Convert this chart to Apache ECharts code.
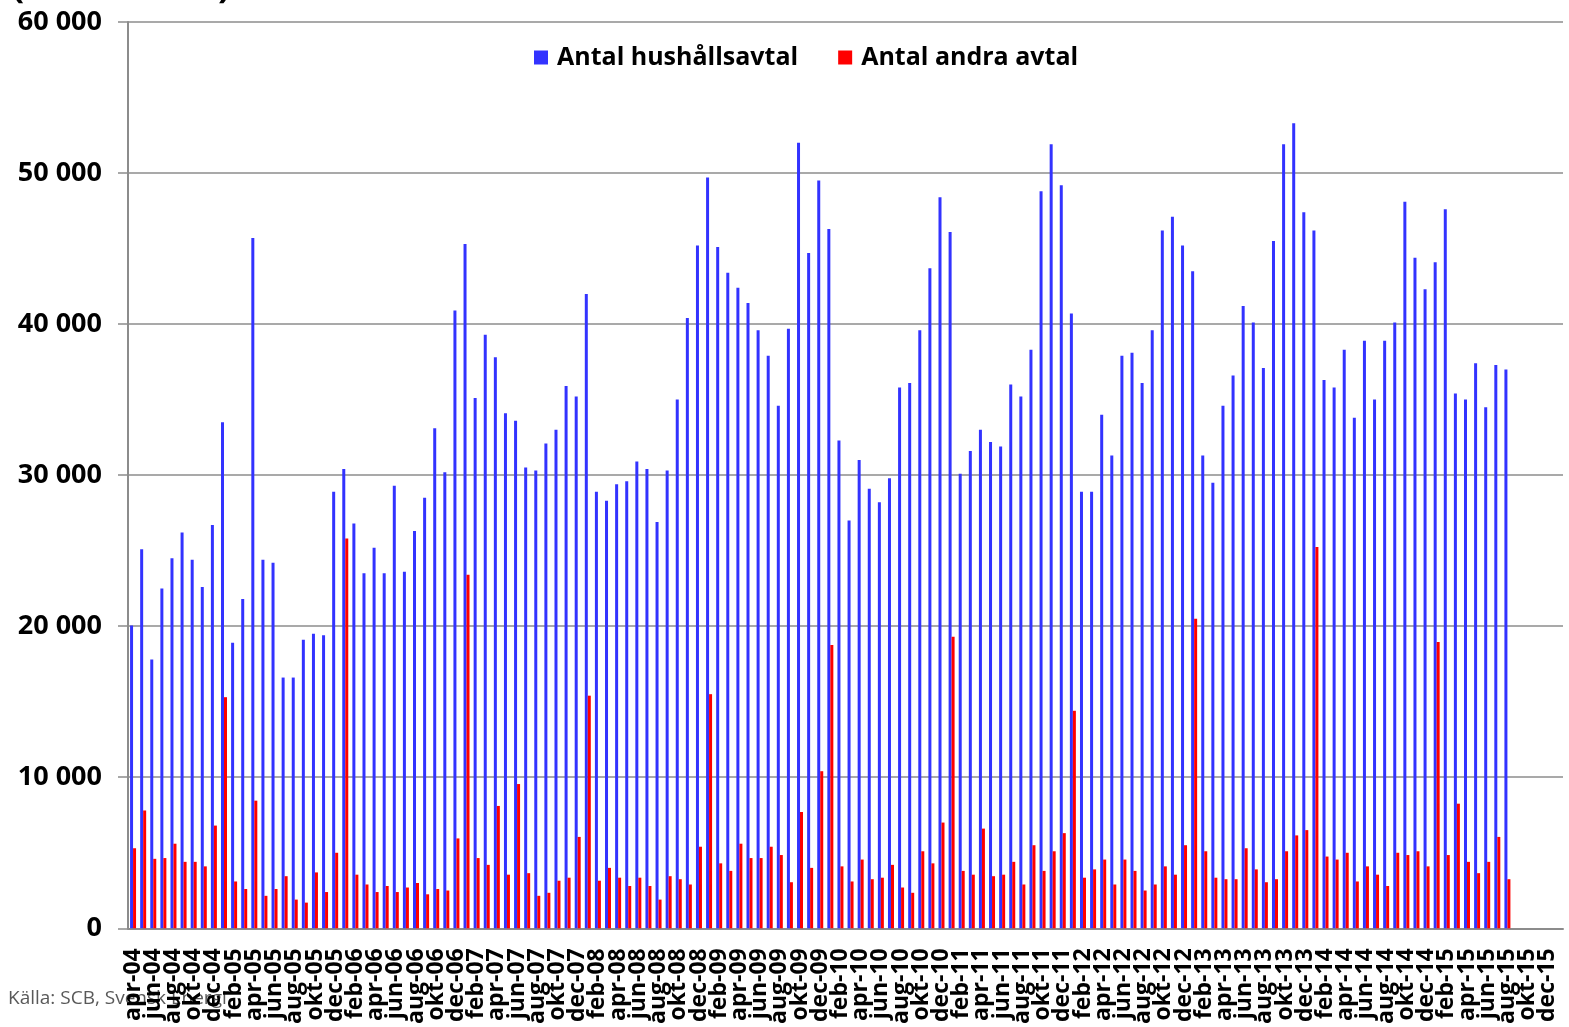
<!DOCTYPE html>
<html>
<head>
<meta charset="utf-8">
<script src="https://cdn.jsdelivr.net/npm/echarts@6/dist/echarts.min.js"></script>
<style>
  html, body { margin: 0; padding: 0; background: #fff; }
  #chart { width: 1569px; height: 1027px; }
</style>
</head>
<body>
<div id="chart"></div>
<script>
// månadsnamn och år för x-axeln (apr-04 .. jan-16)
const months = ['jan', 'feb', 'mar', 'apr', 'maj', 'jun', 'jul', 'aug', 'sep', 'okt', 'nov', 'dec']
const years = ['04', '05', '06', '07', '08', '09', '10', '11', '12', '13', '14', '15', '16']

// Antal hushållsavtal per månad
const hushall = [
  // 2004 apr-dec
  20050, 25100, 17800, 22500, 24500, 26200, 24400, 22600, 26700,
  // 2005
  33500, 18900, 21800, 45700, 24400, 24200, 16600, 16600, 19100, 19500, 19400, 28900,
  // 2006
  30400, 26800, 23500, 25200, 23500, 29300, 23600, 26300, 28500, 33100, 30200, 40900,
  // 2007
  45300, 35100, 39300, 37800, 34100, 33600, 30500, 30300, 32100, 33000, 35900, 35200,
  // 2008
  42000, 28900, 28300, 29400, 29600, 30900, 30400, 26900, 30300, 35000, 40400, 45200,
  // 2009
  49700, 45100, 43400, 42400, 41400, 39600, 37900, 34600, 39700, 52000, 44700, 49500,
  // 2010
  46300, 32300, 27000, 31000, 29100, 28200, 29800, 35800, 36100, 39600, 43700, 48400,
  // 2011
  46100, 30100, 31600, 33000, 32200, 31900, 36000, 35200, 38300, 48800, 51900, 49200,
  // 2012
  40700, 28900, 28900, 34000, 31300, 37900, 38100, 36100, 39600, 46200, 47100, 45200,
  // 2013
  43500, 31300, 29500, 34600, 36600, 41200, 40100, 37100, 45500, 51900, 53300, 47400,
  // 2014
  46200, 36300, 35800, 38300, 33800, 38900, 35000, 38900, 40100, 48100, 44400, 42300,
  // 2015 jan-aug
  44100, 47600, 35400, 35000, 37400, 34500, 37300, 37000
]

// Antal andra avtal per månad
const andra = [
  // 2004 apr-dec
  5300, 7800, 4600, 4650, 5600, 4400, 4400, 4100, 6800,
  // 2005
  15300, 3100, 2600, 8450, 2150, 2600, 3450, 1900, 1700, 3700, 2400, 5000,
  // 2006
  25800, 3550, 2900, 2400, 2800, 2400, 2700, 3000, 2250, 2600, 2500, 5950,
  // 2007
  23400, 4650, 4200, 8100, 3550, 9550, 3650, 2150, 2350, 3150, 3350, 6050,
  // 2008
  15400, 3150, 4000, 3350, 2800, 3350, 2800, 1900, 3450, 3250, 2900, 5400,
  // 2009
  15500, 4300, 3800, 5600, 4650, 4650, 5400, 4850, 3050, 7700, 4000, 10400,
  // 2010
  18750, 4100, 3100, 4550, 3250, 3350, 4200, 2700, 2350, 5100, 4300, 7000,
  // 2011
  19300, 3800, 3550, 6600, 3450, 3550, 4400, 2900, 5500, 3800, 5100, 6300,
  // 2012
  14400, 3350, 3900, 4550, 2900, 4550, 3800, 2500, 2900, 4100, 3550, 5500,
  // 2013
  20500, 5100, 3350, 3250, 3250, 5300, 3900, 3050, 3250, 5100, 6150, 6500,
  // 2014
  25250, 4750, 4550, 5000, 3100, 4100, 3550, 2800, 5000, 4850, 5100, 4100,
  // 2015 jan-aug
  18950, 4850, 8250, 4400, 3650, 4400, 6050, 3250
]

const yTicks = [0, 10000, 20000, 30000, 40000, 50000, 60000]

const categories = []
years.forEach((y, yi) => {
  months.forEach((m, mi) => {
    if (yi === 0 && mi < 3) return
    if (y === '16' && mi > 0) return
    categories.push(m + '-' + y)
  })
})

const font = 'Open Sans'
const gray = '#8c8c8c'

const chart = echarts.init(document.getElementById('chart'))
chart.setOption({
  animation: false,
  textStyle: { fontFamily: font },
  graphic: [
    {
      // rubriken ligger nästan helt utanför bilden, bara parenteserna syns
      type: 'text',
      left: 12,
      top: -30,
      style: {
        text: '(antal avtal)',
        font: 'bold 36px "Open Sans"',
        fill: '#000'
      }
    },
    {
      type: 'text',
      left: 8,
      top: 989,
      z: -1,
      style: {
        text: 'Källa: SCB, Svensk Energi',
        font: '19px "Open Sans"',
        fill: '#595959'
      }
    }
  ],
  legend: {
    left: 529,
    top: 40,
    icon: 'rect',
    itemWidth: 14,
    itemHeight: 14,
    itemGap: 40,
    textStyle: {
      fontFamily: font,
      fontSize: 25,
      fontWeight: 'bold',
      color: '#000',
      padding: [0, 0, 0, 4]
    }
  },
  grid: {
    left: 128,
    right: 6,
    top: 22,
    bottom: 95,
    containLabel: false
  },
  xAxis: {
    type: 'category',
    data: categories,
    axisLine: { lineStyle: { color: gray, width: 2 } },
    axisTick: { interval: 0, length: 8, lineStyle: { color: gray, width: 1.5 } },
    axisLabel: {
      // varannan månad visas
      interval: 0,
      formatter: (value, index) => (index % 2 === 0 ? value : ''),
      rotate: 90,
      margin: 20,
      lineHeight: 18,
      fontFamily: font,
      fontSize: 23,
      fontWeight: 'bold',
      color: '#000'
    }
  },
  yAxis: {
    type: 'value',
    min: yTicks[0],
    max: yTicks[yTicks.length - 1],
    interval: 10000,
    axisLine: { show: true, lineStyle: { color: gray, width: 2 } },
    axisTick: { show: true, length: 10, lineStyle: { color: gray, width: 1.5 } },
    splitLine: { lineStyle: { color: gray, width: 1.5 } },
    axisLabel: {
      margin: 26,
      fontFamily: font,
      fontSize: 27,
      fontWeight: 'bold',
      color: '#000',
      formatter: v => String(v).replace(/\B(?=(\d{3})+(?!\d))/g, ' ')
    }
  },
  series: [
    {
      name: 'Antal hushållsavtal',
      type: 'bar',
      data: hushall,
      barWidth: 3,
      barGap: '0%',
      itemStyle: { color: '#3333ff' }
    },
    {
      name: 'Antal andra avtal',
      type: 'bar',
      data: andra,
      barWidth: 3,
      itemStyle: { color: '#ff0000' }
    }
  ]
})
</script>
</body>
</html>
